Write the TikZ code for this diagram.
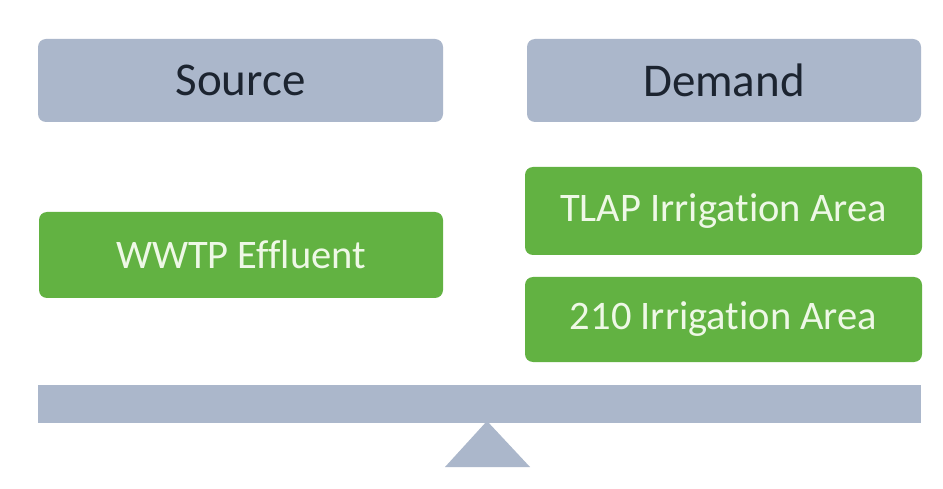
\documentclass[tikz,border=0pt]{standalone}
\usepackage{fontspec}
\setmainfont{Carlito}[Ligatures=NoCommon]
\definecolor{slate}{RGB}{171,183,203}
\definecolor{leaf}{RGB}{98,178,66}
\definecolor{leaftext}{RGB}{238,248,230}
\definecolor{headtext}{RGB}{28,36,48}
\begin{document}
\begin{tikzpicture}[x=1pt,y=-1pt,
  headbox/.style={fill=slate, rounded corners=8pt, inner sep=0pt, text=headtext, font=\fontsize{47}{50}\selectfont},
  greenbox/.style={fill=leaf, rounded corners=8pt, inner sep=0pt, text=leaftext, font=\fontsize{40.5}{44}\selectfont}]
\useasboundingbox (0,0) rectangle (943,489);
\fill[white] (0,0) rectangle (943,489);
\node[headbox, minimum width=405pt, minimum height=83pt] (src) at (240.5,80.5) {Source};
\node[headbox, minimum width=394pt, minimum height=83pt] (dem) at (724,80.5) {Demand};
\node[greenbox, minimum width=404pt, minimum height=86pt] (wwtp) at (241,255) {WWTP Effluent};
\node[greenbox, minimum width=397pt, minimum height=88pt] (tlap) at (723.5,211) {TLAP Irrigation Area};
\node[greenbox, minimum width=397pt, minimum height=85pt] (ia) at (723.5,319.5) {210 Irrigation Area};
\node[fill=slate, inner sep=0pt, minimum width=883pt, minimum height=38pt] (bar) at (479.5,404) {};
\fill[slate] (487,421) -- (530,467) -- (445,467) -- cycle;
\end{tikzpicture}
\end{document}
